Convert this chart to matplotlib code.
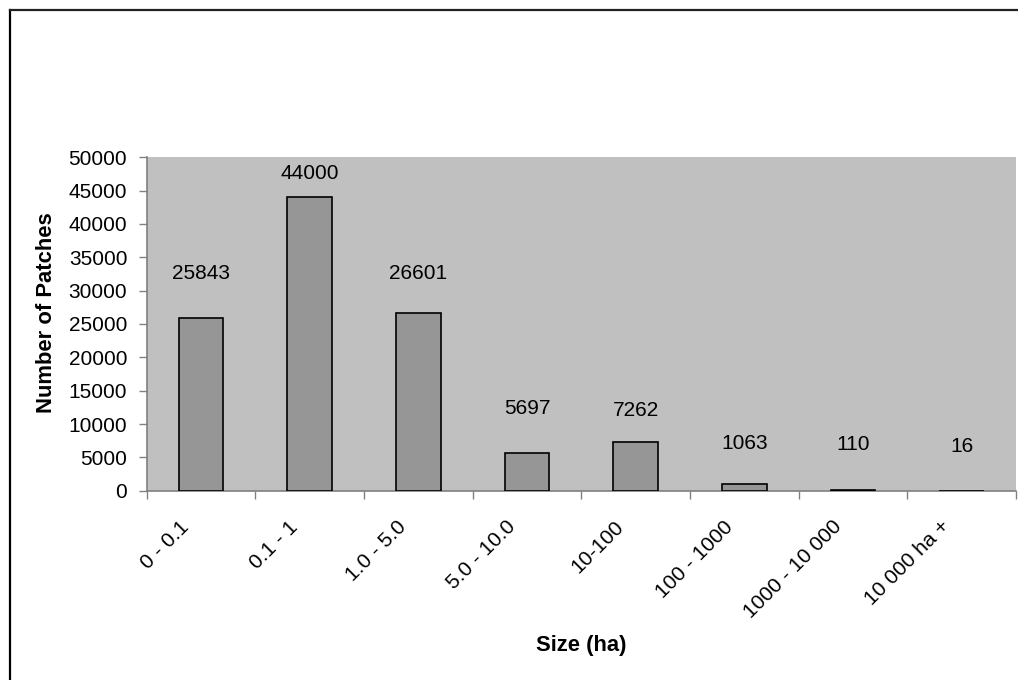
import numpy as np
import matplotlib
matplotlib.use("Agg")
from matplotlib import pyplot as plt
from matplotlib.lines import Line2D
from matplotlib.transforms import ScaledTranslation

plt.rcParams["font.family"] = ["Liberation Sans", "DejaVu Sans"]

# Patch counts per size class
size_classes = ["0 - 0.1", "0.1 - 1", "1.0 - 5.0", "5.0 - 10.0", "10-100",
                "100 - 1000", "1000 - 10 000", "10 000 ha +"]
patch_counts = [25843, 44000, 26601, 5697, 7262, 1063, 110, 16]
# height at which each count label sits
label_heights = [32500, 47600, 32500, 12400, 12100, 7100, 6950, 6600]

W, H = 1018, 680
fig = plt.figure(figsize=(W / 100, H / 100), dpi=100)
ax = fig.add_axes([146.7 / W, 1 - 490.7 / H, (1016 - 146.7) / W, (490.7 - 157.3) / H])
ax.set_facecolor("#C0C0C0")

x = np.arange(len(size_classes))
ax.bar(x, patch_counts, width=0.41, color="#969696", edgecolor="black", linewidth=1.2, zorder=3)

for xi, val, ly in zip(x, patch_counts, label_heights):
    ax.text(xi, ly, str(val), ha="center", va="center", fontsize=15, color="black")

ax.set_xlim(-0.5, len(size_classes) - 0.5)
ax.set_ylim(0, 50000)
ax.set_yticks(np.arange(0, 50001, 5000))

# labels at category centres, tick marks at category boundaries
ax.set_xticks(x)
ax.set_xticklabels(size_classes, rotation=45, ha="right", va="top", fontsize=15)
ax.tick_params(axis="x", which="major", length=0, pad=19)
ax.set_xticks(np.arange(-0.5, len(size_classes), 1.0), minor=True)
ax.tick_params(axis="x", which="minor", length=6, width=1, color="#808080", direction="out")
shift = ScaledTranslation(-8 / 100, 0, fig.dpi_scale_trans)
for lab in ax.get_xticklabels():
    lab.set_transform(lab.get_transform() + shift)

ax.tick_params(axis="y", length=6, width=1, color="#808080", direction="out", pad=8, labelsize=15)

for side in ["top", "right"]:
    ax.spines[side].set_visible(False)
for side in ["left", "bottom"]:
    ax.spines[side].set_color("#808080")
    ax.spines[side].set_linewidth(1.2)

fig.text(47 / W, 1 - 313 / H, "Number of Patches", rotation=90, ha="center", va="center",
         fontsize=15.8, fontweight="bold")
fig.text(581 / W, 1 - 646 / H, "Size (ha)", ha="center", va="center",
         fontsize=15.8, fontweight="bold")

# chart border (left and top edges)
fig.add_artist(Line2D([9.5 / W, 9.5 / W], [0, 1 - 9.5 / H], color="black", linewidth=1.6))
fig.add_artist(Line2D([9.5 / W, 1], [1 - 9.5 / H, 1 - 9.5 / H], color="#222222", linewidth=1.6))

fig.savefig("out.png", dpi=100)
